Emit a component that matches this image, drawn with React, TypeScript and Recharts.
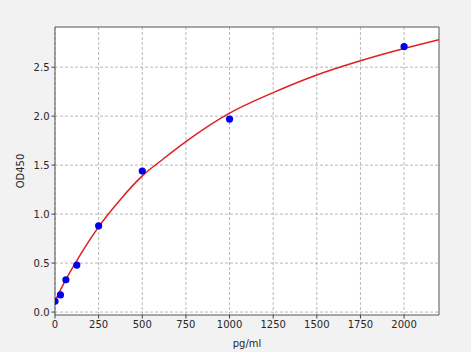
import React from "react";
import {
  ComposedChart,
  Line,
  Scatter,
  XAxis,
  YAxis,
  CartesianGrid,
  ReferenceArea,
} from "recharts";

// standard points (concentration pg/ml, OD450)
const standardConc = [0, 31.25, 62.5, 125, 250, 500, 1000, 2000];
const standardOD = [0.11, 0.175, 0.33, 0.48, 0.88, 1.44, 1.97, 2.71];

// fitted curve
const curveConc = [0, 50, 100, 150, 200, 250, 375, 500, 625, 750, 1000, 1250, 1500, 1750, 2000, 2200];
const curveOD = [0.11, 0.29, 0.45, 0.6, 0.74, 0.87, 1.15, 1.39, 1.57, 1.74, 2.03, 2.24, 2.42, 2.565, 2.69, 2.78];

const xTicks = [0, 250, 500, 750, 1000, 1250, 1500, 1750, 2000];
const yTicks = [0, 0.5, 1, 1.5, 2, 2.5];

const xDomain = [0, 2200];
const yDomain = [-0.03, 2.91];

const points = standardConc.map((x, i) => ({ x, y: standardOD[i] }));
const curve = curveConc.map((x, i) => ({ x, y: curveOD[i] }));

const tickStyle = { fontSize: 10, fill: "#262626", fontFamily: "DejaVu Sans" };

const Dot = (props: any) => <circle cx={props.cx} cy={props.cy} r={3.6} fill="#0000ee" />;

export default function App() {
  return (
    <div style={{ position: "absolute", left: 0, top: 0, width: 471, height: 352, background: "#f2f2f2" }}>
      <ComposedChart width={471} height={352} margin={{ top: 27, right: 32, left: 0, bottom: 0 }}>
        <CartesianGrid
          stroke="#b8b8b8"
          strokeDasharray="3 2"
          fill="#ffffff"
          horizontalValues={yTicks}
          verticalValues={xTicks}
        />
        <XAxis
          dataKey="x"
          type="number"
          domain={xDomain}
          ticks={xTicks}
          allowDataOverflow
          height={37}
          tick={tickStyle}
          tickSize={3.5}
          tickLine={{ stroke: "#444" }}
          axisLine={false}
          label={{ value: "pg/ml", position: "insideBottom", offset: 5, style: { fontSize: 10, fill: "#262626", fontFamily: "DejaVu Sans" } }}
        />
        <YAxis
          dataKey="y"
          type="number"
          domain={yDomain}
          ticks={yTicks}
          allowDataOverflow
          width={55}
          tick={tickStyle}
          tickSize={3.5}
          tickLine={{ stroke: "#444" }}
          axisLine={false}
          tickFormatter={(v: number) => v.toFixed(1)}
          label={{ value: "OD450", angle: -90, position: "insideLeft", offset: 20, style: { fontSize: 10, fill: "#262626", fontFamily: "DejaVu Sans", textAnchor: "middle" } }}
        />
        <Line
          data={curve}
          dataKey="y"
          type="monotone"
          stroke="#dd2020"
          strokeWidth={1.5}
          dot={false}
          activeDot={false}
          isAnimationActive={false}
        />
        <Scatter data={points} dataKey="y" shape={<Dot />} isAnimationActive={false} />
        <ReferenceArea
          x1={xDomain[0]}
          x2={xDomain[1]}
          y1={yDomain[0]}
          y2={yDomain[1]}
          fill="none"
          fillOpacity={0}
          stroke="#555"
          strokeWidth={1}
        />
      </ComposedChart>
    </div>
  );
}
